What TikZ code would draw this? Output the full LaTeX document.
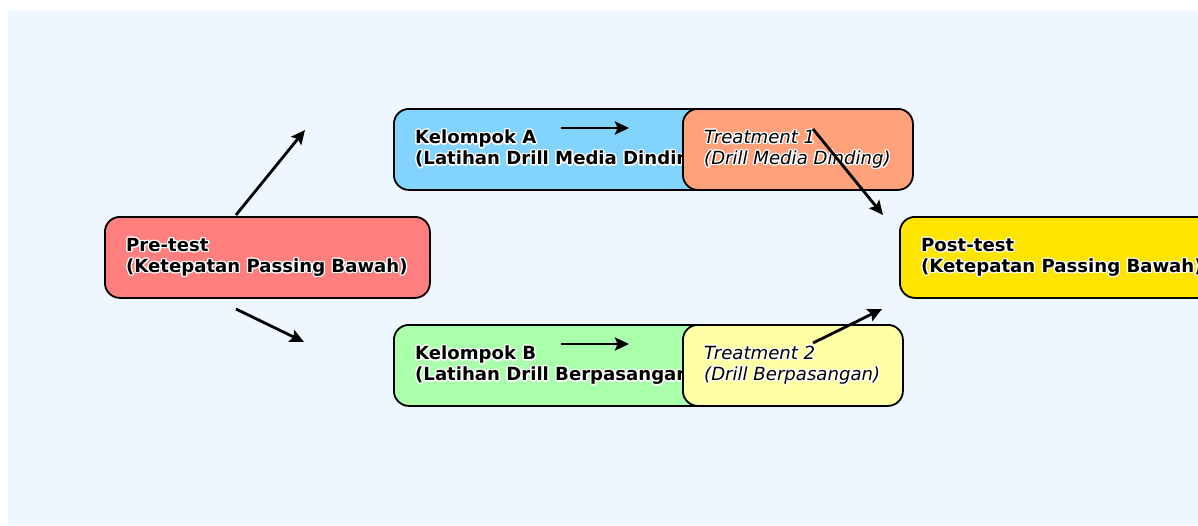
\documentclass[tikz,border=0pt]{standalone}
\usepackage{fontspec}
\setmainfont{DejaVu Sans}
\usepackage[copies]{contour}
\contourlength{1.3pt}
\usetikzlibrary{arrows.meta}
\definecolor{bgc}{HTML}{EEF6FF}
\definecolor{prec}{HTML}{FF7F7F}
\definecolor{kac}{HTML}{82D4FF}
\definecolor{t1c}{HTML}{FFA27C}
\definecolor{kbc}{HTML}{AAFFAA}
\definecolor{t2c}{HTML}{FFFFA5}
\definecolor{postc}{HTML}{FFE400}
\newcommand{\halo}[1]{\contour{white}{#1}}
\begin{document}
\begin{tikzpicture}[x=1pt,y=-1pt,
  box/.style={draw=black,line width=1.8pt,rounded corners=15pt,inner sep=0pt,anchor=north west},
  lbl/.style={anchor=west,inner sep=0pt,align=left,font=\fontsize{18.1}{21}\selectfont\bfseries},
  ilbl/.style={anchor=west,inner sep=0pt,align=left,font=\fontsize{18.1}{21}\selectfont\itshape},
  arr/.style={line width=2.8pt,-{Stealth[length=14pt,width=13pt,inset=2.5pt]}}]
\useasboundingbox (0,0) rectangle (1198,525);
\fill[white] (0,0) rectangle (1198,525);
\fill[bgc] (8,11) rectangle (1198,525);
% Pre-test
\node[box,fill=prec,minimum width=325pt,minimum height=81pt] (pre) at (104,216) {};
\node[lbl] (pret) at (126,258) {\halo{Pre-test}\\\halo{(Ketepatan Passing Bawah)}};
% Kelompok A
\node[box,fill=kac,minimum width=400pt,minimum height=81pt] (ka) at (393,108) {};
\node[lbl] (kat) at (415,150) {\halo{Kelompok A}\\\halo{(Latihan Drill Media Dinding)}};
\node[box,fill=t1c,minimum width=230pt,minimum height=81pt] (t1) at (682,108) {};
\node[ilbl] (t1t) at (704,150) {\halo{Treatment 1}\\\halo{(Drill Media Dinding)}};
% Kelompok B
\node[box,fill=kbc,minimum width=400pt,minimum height=81pt] (kb) at (393,324) {};
\node[lbl] (kbt) at (415,366) {\halo{Kelompok B}\\\halo{(Latihan Drill Berpasangan)}};
\node[box,fill=t2c,minimum width=220pt,minimum height=81pt] (t2) at (682,324) {};
\node[ilbl] (t2t) at (704,366) {\halo{Treatment 2}\\\halo{(Drill Berpasangan)}};
% Post-test
\node[box,fill=postc,minimum width=330pt,minimum height=81pt] (post) at (899,216) {};
\node[lbl] (postt) at (921,258) {\halo{Post-test}\\\halo{(Ketepatan Passing Bawah)}};
% arrow coordinates
\coordinate (a1s) at (236,215); \coordinate (a1e) at (305,130);
\coordinate (a2s) at (236,309); \coordinate (a2e) at (304,342);
\coordinate (a3s) at (561,128); \coordinate (a3e) at (629,128);
\coordinate (a4s) at (561,344); \coordinate (a4e) at (629,344);
\coordinate (a5s) at (813,129); \coordinate (a5e) at (883,215);
\coordinate (a6s) at (813,343); \coordinate (a6e) at (882,309);
\draw[arr] (a1s) -- (a1e);
\draw[arr] (a2s) -- (a2e);
\draw[arr] (a3s) -- (a3e);
\draw[arr] (a4s) -- (a4e);
\draw[arr] (a5s) -- (a5e);
\draw[arr] (a6s) -- (a6e);
\end{tikzpicture}
\end{document}
